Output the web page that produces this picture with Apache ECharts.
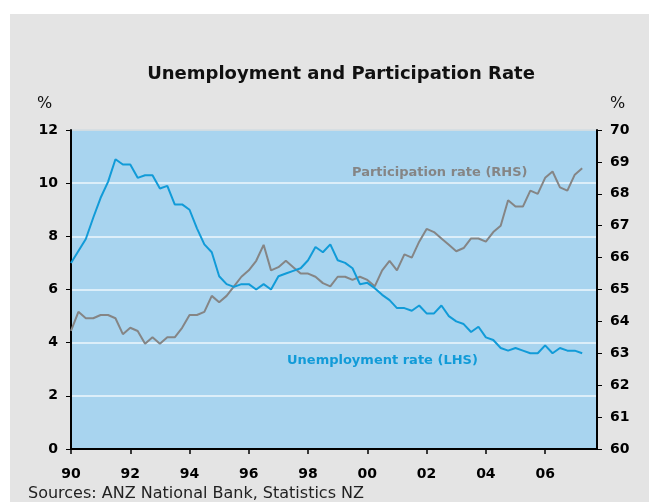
<!DOCTYPE html>
<html>
<head>
<meta charset="utf-8">
<script src="https://cdn.jsdelivr.net/npm/echarts@6/dist/echarts.min.js"></script>
<style>
html,body{margin:0;padding:0;background:#ffffff;}
#wrap{position:absolute;left:10px;top:14px;width:639px;height:488px;background:#e4e4e4;}
#chart{position:absolute;left:0;top:0;width:649px;height:502px;}
</style>
</head>
<body>
<div id="wrap"></div>
<div id="chart"></div>
<script>
// Quarterly observations, 1990 Q1 to 2007 Q2
const startYear = 1990;
const unemployment = [
  7.0, 7.45, 7.9, 8.7,
  9.45, 10.05, 10.9, 10.7,
  10.7, 10.2, 10.3, 10.3,
  9.8, 9.9, 9.2, 9.2,
  9.0, 8.3, 7.7, 7.4,
  6.5, 6.2, 6.1, 6.2,
  6.2, 6.0, 6.2, 6.0,
  6.5, 6.6, 6.7, 6.8,
  7.1, 7.6, 7.4, 7.7,
  7.1, 7.0, 6.8, 6.2,
  6.25, 6.05, 5.8, 5.6,
  5.3, 5.3, 5.2, 5.4,
  5.1, 5.1, 5.4, 5.0,
  4.8, 4.7, 4.4, 4.6,
  4.2, 4.1, 3.8, 3.7,
  3.8, 3.7, 3.6, 3.6,
  3.9, 3.6, 3.8, 3.7,
  3.7, 3.6
];
const participation = [
  63.7, 64.3, 64.1, 64.1,
  64.2, 64.2, 64.1, 63.6,
  63.8, 63.7, 63.3, 63.5,
  63.3, 63.5, 63.5, 63.8,
  64.2, 64.2, 64.3, 64.8,
  64.6, 64.8, 65.1, 65.4,
  65.6, 65.9, 66.4, 65.6,
  65.7, 65.9, 65.7, 65.5,
  65.5, 65.4, 65.2, 65.1,
  65.4, 65.4, 65.3, 65.4,
  65.3, 65.1, 65.6, 65.9,
  65.6, 66.1, 66.0, 66.5,
  66.9, 66.8, 66.6, 66.4,
  66.2, 66.3, 66.6, 66.6,
  66.5, 66.8, 67.0, 67.8,
  67.6, 67.6, 68.1, 68.0,
  68.5, 68.7, 68.2, 68.1,
  68.6, 68.8
];
const xTicks = [1990, 1992, 1994, 1996, 1998, 2000, 2002, 2004, 2006];
const leftTicks = [0, 2, 4, 6, 8, 10, 12];
const rightTicks = [60, 61, 62, 63, 64, 65, 66, 67, 68, 69, 70];
const titleText = 'Unemployment and Participation Rate';
const sourceText = 'Sources: ANZ National Bank, Statistics NZ';
const unempLabel = 'Unemployment rate (LHS)';
const partLabel = 'Participation rate (RHS)';

const toPairs = arr => arr.map((v, i) => [startYear + i / 4, v]);

const chart = echarts.init(document.getElementById('chart'), null, {renderer: 'canvas'});
const font = 'DejaVu Sans, Verdana, sans-serif';
chart.setOption({
  animation: false,
  backgroundColor: 'transparent',
  title: {
    text: titleText,
    left: 336, top: 60, textAlign: 'center',
    textStyle: {fontFamily: font, fontSize: 18, fontWeight: 'bold', color: '#111'}
  },
  grid: {
    left: 71, right: 52, top: 130, bottom: 53,
    show: true, backgroundColor: '#a8d4ef', borderColor: '#444', borderWidth: 1
  },
  xAxis: {
    type: 'value', min: 1990, max: 2007.75, interval: 2,
    axisLine: {lineStyle: {color: '#000', width: 2}},
    axisTick: {show: true, length: 5, lineStyle: {color: '#000', width: 1.5}, customValues: xTicks},
    axisLabel: {
      customValues: xTicks,
      margin: 18,
      fontFamily: font, fontSize: 14, fontWeight: 'bold', color: '#000',
      formatter: v => String(Math.round(v) % 100).padStart(2, '0')
    },
    splitLine: {show: false}
  },
  yAxis: [
    {
      type: 'value', min: 0, max: 12, interval: 2, position: 'left',
      axisLine: {show: true, lineStyle: {color: '#000', width: 2}},
      axisTick: {show: true, length: 5, lineStyle: {color: '#000', width: 1}},
      axisLabel: {margin: 13, fontFamily: font, fontSize: 14, fontWeight: 'bold', color: '#000'},
      splitLine: {show: true, lineStyle: {color: '#eef7fc', width: 1.5}}
    },
    {
      type: 'value', min: 60, max: 70, interval: 1, position: 'right',
      axisLine: {show: true, lineStyle: {color: '#000', width: 2}},
      axisTick: {show: true, length: 5, lineStyle: {color: '#000', width: 1}},
      axisLabel: {margin: 13, fontFamily: font, fontSize: 14, fontWeight: 'bold', color: '#000'},
      splitLine: {show: false}
    }
  ],
  series: [
    {
      name: 'Participation rate (RHS)', type: 'line', yAxisIndex: 1,
      data: toPairs(participation), showSymbol: false, symbol: 'none',
      lineStyle: {color: '#858585', width: 2}, z: 3
    },
    {
      name: 'Unemployment rate (LHS)', type: 'line', yAxisIndex: 0,
      data: toPairs(unemployment), showSymbol: false, symbol: 'none',
      lineStyle: {color: '#119bd8', width: 2}, z: 4
    }
  ],
  graphic: [
    {type: 'text', left: 37, top: 96, style: {text: '%', fontFamily: font, fontSize: 16, fill: '#111'}},
    {type: 'text', left: 610, top: 96, style: {text: '%', fontFamily: font, fontSize: 16, fill: '#111'}},
    {type: 'text', left: 352, top: 166, style: {text: partLabel, fontFamily: font, fontSize: 13, fontWeight: 'bold', fill: '#858585'}},
    {type: 'text', left: 287, top: 354, style: {text: unempLabel, fontFamily: font, fontSize: 13, fontWeight: 'bold', fill: '#119bd8'}},
    {type: 'text', left: 28, top: 486, style: {text: sourceText, fontFamily: font, fontSize: 16, fill: '#222'}}
  ]
});
</script>
</body>
</html>
